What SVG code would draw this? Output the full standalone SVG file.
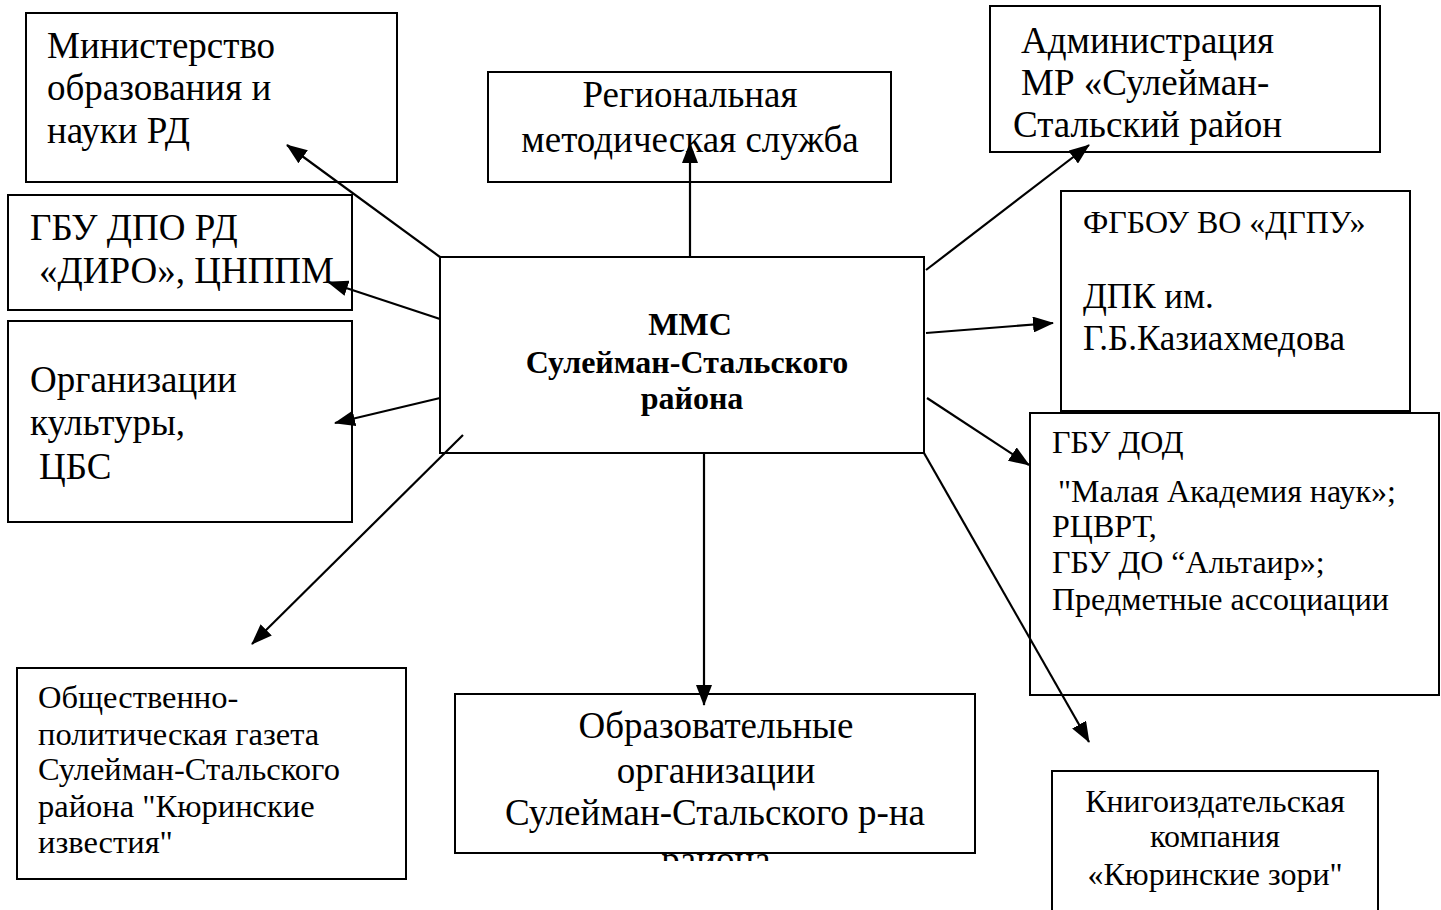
<svg xmlns="http://www.w3.org/2000/svg" width="1441" height="910" viewBox="0 0 1441 910">
<style>
.box{fill:#fff;stroke:#000;stroke-width:2}
.t{font-family:"Liberation Serif","Times New Roman",serif;fill:#000}
.b{font-weight:bold}
.c{text-anchor:middle}
.con line{stroke:#000;stroke-width:2.2}
</style>
<defs>
<marker id="ah" markerUnits="userSpaceOnUse" markerWidth="22" markerHeight="16" refX="20" refY="8" orient="auto">
<path d="M0,0 L21,8 L0,16 z" fill="#000"/>
</marker>
<clipPath id="clipR"><rect x="455" y="854" width="520" height="7"/></clipPath>
</defs>
<rect width="1441" height="910" fill="#fff"/>

<g id="n-min">
<rect class="box" x="26" y="13" width="371" height="169"/>
<text class="t" font-size="37"><tspan x="47" y="58">Министерство</tspan><tspan x="47" y="100">образования и</tspan><tspan x="47" y="143">науки РД</tspan></text>
</g>
<g id="n-diro">
<rect class="box" x="8" y="195" width="344" height="115"/>
<text class="t" font-size="37"><tspan x="30" y="240">ГБУ ДПО РД</tspan><tspan x="39" y="283">«ДИРО», ЦНППМ</tspan></text>
</g>
<g id="n-cult">
<rect class="box" x="8" y="321" width="344" height="201"/>
<text class="t" font-size="37"><tspan x="30" y="392">Организации</tspan><tspan x="30" y="435">культуры,</tspan><tspan x="39" y="479">ЦБС</tspan></text>
</g>
<g id="n-reg">
<rect class="box" x="488" y="72" width="403" height="110"/>
<text class="t c" font-size="37"><tspan x="690" y="107">Региональная</tspan><tspan x="690" y="152">методическая служба</tspan></text>
</g>
<g id="n-center">
<rect class="box" x="440" y="257" width="484" height="196"/>
<text class="t b c" font-size="32"><tspan x="690" y="335">ММС</tspan><tspan x="687" y="373">Сулейман-Стальского</tspan><tspan x="692" y="409">района</tspan></text>
</g>
<g id="n-adm">
<rect class="box" x="990" y="6" width="390" height="146"/>
<text class="t" font-size="37"><tspan x="1021" y="53">Администрация</tspan><tspan x="1021" y="95">МР «Сулейман-</tspan><tspan x="1013" y="137">Стальский район</tspan></text>
</g>
<g id="n-dgpu">
<rect class="box" x="1061" y="191" width="349" height="220"/>
<text class="t" font-size="32"><tspan x="1083" y="233">ФГБОУ ВО «ДГПУ»</tspan></text>
<text class="t" font-size="35"><tspan x="1083" y="308">ДПК им.</tspan><tspan x="1083" y="350">Г.Б.Казиахмедова</tspan></text>
</g>
<g id="n-dod">
<rect class="box" x="1030" y="413" width="409" height="282"/>
<text class="t" font-size="32"><tspan x="1052" y="453">ГБУ ДОД</tspan><tspan x="1058" y="502">"Малая Академия наук»;</tspan><tspan x="1052" y="537">РЦВРТ,</tspan><tspan x="1052" y="573">ГБУ ДО “Альтаир»;</tspan><tspan x="1052" y="610">Предметные ассоциации</tspan></text>
</g>
<g id="n-gaz">
<rect class="box" x="17" y="668" width="389" height="211"/>
<text class="t" font-size="32.5"><tspan x="38" y="708">Общественно-</tspan><tspan x="38" y="745">политическая газета</tspan><tspan x="38" y="780">Сулейман-Стальского</tspan><tspan x="38" y="817">района "Кюринские</tspan><tspan x="38" y="853">известия"</tspan></text>
</g>
<g id="n-edu">
<rect class="box" x="455" y="694" width="520" height="159"/>
<text class="t c" font-size="37"><tspan x="716" y="738">Образовательные</tspan><tspan x="716" y="783">организации</tspan><tspan x="715" y="825">Сулейман-Стальского р-на</tspan></text>
<text class="t c" font-size="37" x="716" y="872" clip-path="url(#clipR)">района</text>
</g>
<g id="n-book">
<rect class="box" x="1052" y="771" width="326" height="150"/>
<text class="t c" font-size="32"><tspan x="1215" y="812">Книгоиздательская</tspan><tspan x="1215" y="847">компания</tspan><tspan x="1215" y="885">«Кюринские зори"</tspan></text>
</g>

<g id="connectors" class="con">
<line x1="440" y1="257" x2="287" y2="145" marker-end="url(#ah)"/>
<line x1="440" y1="319" x2="328" y2="282" marker-end="url(#ah)"/>
<line x1="440" y1="398" x2="335" y2="423" marker-end="url(#ah)"/>
<line x1="463" y1="435" x2="252" y2="644" marker-end="url(#ah)"/>
<line x1="690" y1="257" x2="690" y2="143" marker-end="url(#ah)"/>
<line x1="926" y1="270" x2="1089" y2="145" marker-end="url(#ah)"/>
<line x1="926" y1="333" x2="1053" y2="323" marker-end="url(#ah)"/>
<line x1="927" y1="398" x2="1029" y2="465" marker-end="url(#ah)"/>
<line x1="924" y1="453" x2="1089" y2="742" marker-end="url(#ah)"/>
<line x1="704" y1="453" x2="704" y2="705" marker-end="url(#ah)"/>
</g>
</svg>
